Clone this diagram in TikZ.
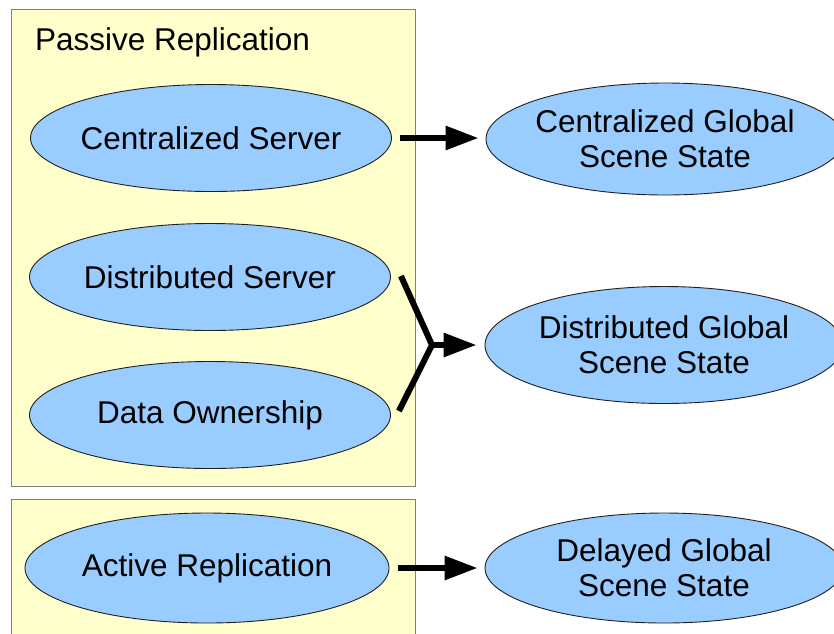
\documentclass[tikz,border=0pt]{standalone}
\usepackage{fontspec}
\setmainfont{Liberation Sans}
\usetikzlibrary{shapes.geometric,arrows.meta}
\definecolor{boxfill}{HTML}{FFFFCC}
\definecolor{boxline}{HTML}{7F7F7F}
\definecolor{ellfill}{HTML}{99CCFF}
\definecolor{ellline}{HTML}{202020}
\begin{document}
\begin{tikzpicture}[x=1pt,y=-1pt,
  box/.style={draw=boxline, fill=boxfill, line width=1pt, rectangle, inner sep=0pt},
  txt/.style={font=\fontsize{31.5}{35}\selectfont, align=center, text=black},
  ellL/.style={draw=ellline, fill=ellfill, line width=0.9pt, ellipse, inner sep=0pt, minimum width=361, minimum height=107},
  ellR/.style={draw=ellline, fill=ellfill, line width=0.9pt, ellipse, inner sep=0pt, minimum width=358, minimum height=112},
  arr/.style={line width=6pt, -{Triangle[length=33pt,width=23pt]}},
  conn/.style={line width=6pt}
]
\clip (0,0) rectangle (834,633);
\fill[white] (0,0) rectangle (834,633);
% containers
\node[box, minimum width=404, minimum height=477] (pbox) at (213,247.5) {};
\node[box, minimum width=404, minimum height=150] (abox) at (213,574) {};
\node[txt, anchor=west, inner sep=0pt] (ptitle) at (35,42) {Passive Replication};
% left ellipses
\node[ellL, label={[txt]center:Centralized Server}] (cs) at (211,138) {};
\node[ellL, label={[txt]center:Distributed Server}] (ds) at (210,277) {};
\node[ellL, label={[txt]center:Data Ownership}] (do) at (210,415) {};
\node[ellL, minimum width=364, minimum height=110, label={[txt]center:Active Replication}] (ar) at (207,568) {};
% right ellipses
\node[ellR, label={[txt]center:{Centralized Global\\Scene State}}] (cgs) at (665,139) {};
\node[ellR, minimum height=117, label={[txt]center:{Distributed Global\\Scene State}}] (dgs) at (664,345) {};
\node[ellR, minimum height=110, label={[txt]center:{Delayed Global\\Scene State}}] (dlgs) at (664,568) {};
% connectors
\draw[arr] ([xshift=8pt]cs.east) -- ([xshift=-7pt]cgs.west |- cs.east);
\coordinate (j) at (432,345);
\draw[conn] ([shift={(10,-1)}]ds.east) -- (j) -- ([shift={(8,-4)}]do.east);
\draw[arr] (j) -- ([xshift=-8pt]dgs.west);
\draw[arr] ([xshift=9pt]ar.east) -- ([xshift=-7pt]dlgs.west |- ar.east);
\end{tikzpicture}
\end{document}
